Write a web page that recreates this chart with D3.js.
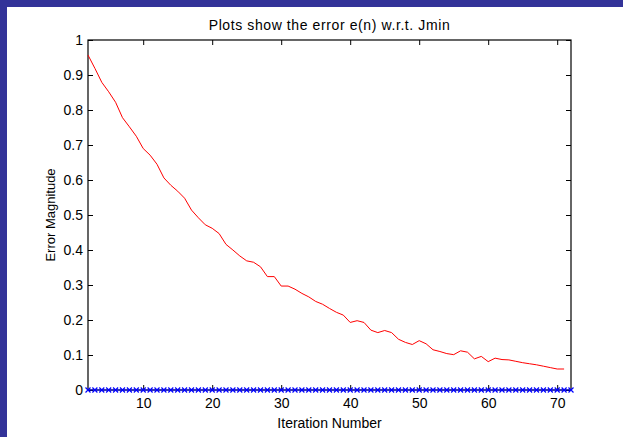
<!DOCTYPE html>
<html>
<head>
<meta charset="utf-8">
<script src="https://cdn.jsdelivr.net/npm/d3@7"></script>
<style>
  body { margin: 0; background: #fff; }
  svg { display: block; }
  text { font-family: "Liberation Sans", Arial, Helvetica, sans-serif; fill: #000; }
</style>
</head>
<body>
<svg id="chart" width="623" height="437"></svg>
<script>
// --- data ---
const firstIteration = 2;
const errorValues = [
  0.957, 0.919, 0.879, 0.852, 0.822, 0.778, 0.752, 0.725, 0.690, 0.671,
  0.645, 0.606, 0.585, 0.568, 0.548, 0.514, 0.492, 0.472, 0.462, 0.447,
  0.416, 0.400, 0.383, 0.369, 0.365, 0.352, 0.324, 0.324, 0.297, 0.297,
  0.288, 0.276, 0.266, 0.253, 0.245, 0.233, 0.222, 0.214, 0.193, 0.198,
  0.193, 0.171, 0.164, 0.170, 0.164, 0.145, 0.136, 0.130, 0.141, 0.132,
  0.115, 0.110, 0.104, 0.101, 0.112, 0.108, 0.089, 0.096, 0.081, 0.091,
  0.087, 0.086, 0.082, 0.078, 0.075, 0.072, 0.068, 0.064, 0.060, 0.060
];
const jminValues = [
  0, 0, 0, 0, 0, 0, 0, 0, 0, 0, 0, 0, 0, 0, 0, 0, 0, 0, 0, 0,
  0, 0, 0, 0, 0, 0, 0, 0, 0, 0, 0, 0, 0, 0, 0, 0, 0, 0, 0, 0,
  0, 0, 0, 0, 0, 0, 0, 0, 0, 0, 0, 0, 0, 0, 0, 0, 0, 0, 0, 0,
  0, 0, 0, 0, 0, 0, 0, 0, 0, 0, 0
];
const xDomain = [2, 72];
const xTicks = [10, 20, 30, 40, 50, 60, 70];
const yTicks = [0, 0.1, 0.2, 0.3, 0.4, 0.5, 0.6, 0.7, 0.8, 0.9, 1];
const title = "Plots show the error e(n) w.r.t. Jmin";
const xLabel = "Iteration Number";
const yLabel = "Error Magnitude";

// --- layout ---
const W = 623, H = 437;
const plot = { left: 88, top: 40, right: 571, bottom: 390 };

const svg = d3.select("#chart");

// blue frame on left/top
svg.append("rect").attr("x", 0).attr("y", 0).attr("width", W).attr("height", 7).attr("fill", "#333399");
svg.append("rect").attr("x", 0).attr("y", 0).attr("width", 7).attr("height", H).attr("fill", "#333399");

const x = d3.scaleLinear().domain(xDomain).range([plot.left, plot.right]);
const y = d3.scaleLinear().domain([0, 1]).range([plot.bottom, plot.top]);

const tick = 5;
const fmtY = d => String(+d.toFixed(1));

// bottom axis
svg.append("g").attr("transform", `translate(0,${plot.bottom})`)
  .call(d3.axisBottom(x).tickValues(xTicks).tickSize(-tick).tickPadding(8).tickSizeOuter(0))
  .call(g => g.select(".domain").remove());
// top axis ticks
svg.append("g").attr("transform", `translate(0,${plot.top})`)
  .call(d3.axisTop(x).tickValues(xTicks).tickSize(-tick).tickFormat("").tickSizeOuter(0))
  .call(g => g.select(".domain").remove());
// left axis
svg.append("g").attr("transform", `translate(${plot.left},0)`)
  .call(d3.axisLeft(y).tickValues(yTicks).tickSize(-tick).tickPadding(5).tickFormat(fmtY).tickSizeOuter(0))
  .call(g => g.select(".domain").remove());
// right axis ticks
svg.append("g").attr("transform", `translate(${plot.right},0)`)
  .call(d3.axisRight(y).tickValues(yTicks).tickSize(-tick).tickFormat("").tickSizeOuter(0))
  .call(g => g.select(".domain").remove());

svg.selectAll(".tick text").style("font-size", "14px").style("font-family", "'Liberation Sans', Arial, sans-serif");
svg.selectAll(".tick line").attr("stroke", "#000");

// axes box
svg.append("rect")
  .attr("x", plot.left).attr("y", plot.top)
  .attr("width", plot.right - plot.left).attr("height", plot.bottom - plot.top)
  .attr("fill", "none").attr("stroke", "#000").attr("stroke-width", 1.2);

// red error curve
const line = d3.line().x((d, i) => x(firstIteration + i)).y(d => y(d));
svg.append("path").datum(errorValues)
  .attr("d", line).attr("fill", "none").attr("stroke", "#ff0000").attr("stroke-width", 1);

// blue Jmin reference with x markers
svg.append("path").datum(jminValues)
  .attr("d", line).attr("fill", "none").attr("stroke", "#0000ff").attr("stroke-width", 1);
const m = 2.5;
svg.append("g").selectAll("path.mk").data(jminValues).enter().append("path")
  .attr("class", "mk")
  .attr("d", (d, i) => {
    const cx = x(firstIteration + i), cy = y(d);
    return `M${cx - m},${cy - m}L${cx + m},${cy + m}M${cx - m},${cy + m}L${cx + m},${cy - m}`;
  })
  .attr("stroke", "#0000ff").attr("stroke-width", 1.2);

// labels
svg.append("text").attr("x", (plot.left + plot.right) / 2).attr("y", 30)
  .attr("text-anchor", "middle").style("font-size", "14px").style("letter-spacing", "0.6px").text(title);
svg.append("text").attr("x", (plot.left + plot.right) / 2).attr("y", 428)
  .attr("text-anchor", "middle").style("font-size", "14px").text(xLabel);
svg.append("text").attr("transform", `translate(55,${(plot.top + plot.bottom) / 2}) rotate(-90)`)
  .attr("text-anchor", "middle").style("font-size", "13px").text(yLabel);
</script>
</body>
</html>
